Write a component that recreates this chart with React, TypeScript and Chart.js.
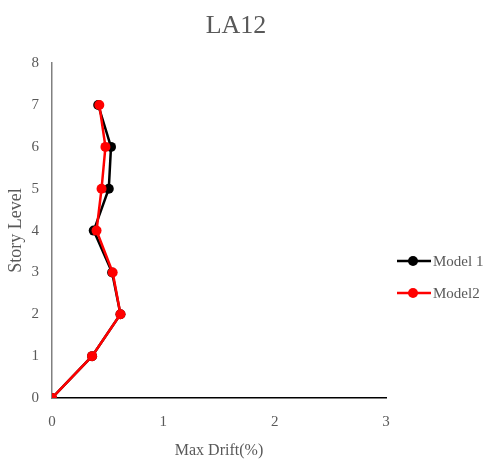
import React, { useEffect, useRef } from "react";
import { Chart, registerables } from "chart.js";

Chart.register(...registerables);

const chartTitle = "LA12";
const xAxisTitle = "Max Drift(%)";
const yAxisTitle = "Story Level";
const storyLevels = [0, 1, 2, 3, 4, 5, 6, 7];
const model1Drift = [0, 0.36, 0.615, 0.54, 0.375, 0.51, 0.53, 0.415];
const model2Drift = [0, 0.36, 0.615, 0.545, 0.4, 0.445, 0.48, 0.425];
const seriesNames = ["Model 1", "Model2"];
const seriesColors = ["#000000", "#ff0000"];
const xTicks = [0, 1, 2, 3];
const yTicks = [0, 1, 2, 3, 4, 5, 6, 7, 8];

const FONT = "'Liberation Serif', 'Times New Roman', serif";
const TEXT = "#595959";

export default function App() {
  const ref = useRef<HTMLCanvasElement | null>(null);

  useEffect(() => {
    document.body.style.margin = "0";
    const canvas = ref.current;
    if (!canvas) return;
    const toPts = (xs: number[]) => xs.map((x, i) => ({ x, y: storyLevels[i] }));
    const chart = new Chart(canvas, {
      type: "scatter",
      data: {
        datasets: [model1Drift, model2Drift].map((d, i) => ({
          label: seriesNames[i],
          data: toPts(d),
          order: seriesNames.length - 1 - i,
          showLine: true,
          borderColor: seriesColors[i],
          backgroundColor: seriesColors[i],
          pointBackgroundColor: seriesColors[i],
          pointBorderColor: seriesColors[i],
          borderWidth: 2.5,
          pointRadius: 5,
          pointBorderWidth: 0,
        })),
      },
      options: {
        responsive: false,
        animation: false,
        layout: { padding: { left: 0, right: 15, top: 0, bottom: 0 } },
        plugins: {
          legend: { display: false },
          tooltip: { enabled: false },
          title: {
            display: true,
            text: chartTitle,
            color: TEXT,
            font: { family: FONT, size: 26, weight: "normal" },
            padding: { top: 11, bottom: 21 },
          },
        },
        scales: {
          x: {
            type: "linear",
            min: xTicks[0],
            max: xTicks[xTicks.length - 1],
            afterBuildTicks: (s: any) => {
              s.ticks = xTicks.map((v) => ({ value: v }));
            },
            afterFit: (s: any) => {
              s.height = 62;
            },
            grid: { display: false, drawTicks: false },
            border: { display: true, color: "#000000", width: 1.5 },
            ticks: {
              color: TEXT,
              padding: 15,
              font: { family: FONT, size: 15 },
            },
            title: {
              display: true,
              text: xAxisTitle,
              color: TEXT,
              font: { family: FONT, size: 16 },
              padding: { top: 0, bottom: 0 },
            },
          },
          y: {
            type: "linear",
            min: yTicks[0],
            max: yTicks[yTicks.length - 1],
            afterBuildTicks: (s: any) => {
              s.ticks = yTicks.map((v) => ({ value: v }));
            },
            afterFit: (s: any) => {
              s.width = 52;
            },
            grid: { display: false, drawTicks: false },
            border: { display: true, color: "#808080", width: 1.5 },
            ticks: {
              color: TEXT,
              padding: 13,
              font: { family: FONT, size: 15 },
            },
            title: {
              display: true,
              text: yAxisTitle,
              color: TEXT,
              font: { family: FONT, size: 18 },
              padding: { top: 5, bottom: 0 },
            },
          },
          spacer: {
            type: "linear",
            axis: "y",
            position: "right",
            display: true,
            grid: { display: false, drawTicks: false },
            border: { display: false },
            ticks: { display: false },
            afterFit: (s: any) => {
              s.width = 86;
            },
          },
        },
      },
    } as any);
    return () => chart.destroy();
  }, []);

  return (
    <div style={{ position: "relative", width: 487, height: 460 }}>
      <canvas ref={ref} width={487} height={460} style={{ display: "block" }} />
      <div style={{ position: "absolute", left: 397, top: 252 }}>
        {seriesNames.map((name, i) => (
          <div
            key={name}
            style={{ display: "flex", alignItems: "center", height: 18, marginBottom: 14 }}
          >
            <svg width={36} height={12} style={{ display: "block" }}>
              <line x1={0} y1={6} x2={34} y2={6} stroke={seriesColors[i]} strokeWidth={2.5} />
              <circle cx={16} cy={6} r={5} fill={seriesColors[i]} />
            </svg>
            <span style={{ fontFamily: FONT, fontSize: 15, color: TEXT, lineHeight: "18px" }}>
              {name}
            </span>
          </div>
        ))}
      </div>
    </div>
  );
}
